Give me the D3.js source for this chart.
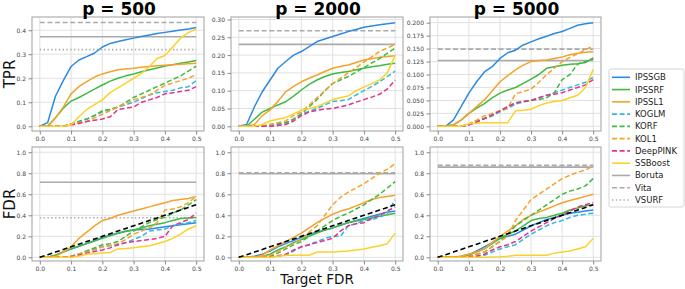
<!DOCTYPE html>
<html><head><meta charset="utf-8">
<script src="https://cdn.jsdelivr.net/npm/d3@7"></script>
<style>
body{margin:0;background:#fff}
svg{display:block}
text{font-family:"DejaVu Sans",sans-serif}
</style>
</head><body>
<svg id="chart" width="685" height="289"></svg>
<script>
// ---------- data ----------
const targetFDR = [0,0.025,0.05,0.075,0.1,0.125,0.15,0.175,0.2,0.225,0.25,0.275,0.3,0.325,0.35,0.375,0.4,0.425,0.45,0.475,0.5];
const methods = ["IPSSGB","IPSSRF","IPSSL1","KOGLM","KORF","KOL1","DeepPINK","SSBoost"];
const refMethods = ["Boruta","Vita","VSURF"];
const titles = ["p = 500","p = 2000","p = 5000"];
const xTicks = [0,0.1,0.2,0.3,0.4,0.5];

const tpr500 = {
  IPSSGB:  [0,0.015,0.125,0.19,0.249,0.276,0.29,0.305,0.33,0.345,0.353,0.36,0.367,0.374,0.38,0.386,0.391,0.396,0.401,0.405,0.411],
  IPSSRF:  [0,0,0.035,0.075,0.105,0.12,0.137,0.155,0.172,0.188,0.2,0.21,0.218,0.227,0.235,0.243,0.251,0.256,0.262,0.268,0.274],
  IPSSL1:  [0,0,0.035,0.08,0.135,0.165,0.186,0.205,0.218,0.227,0.235,0.239,0.242,0.246,0.249,0.252,0.254,0.256,0.258,0.26,0.262],
  KOGLM:   [0,0,0,0,0.01,0.02,0.03,0.045,0.06,0.07,0.08,0.09,0.1,0.115,0.13,0.14,0.145,0.15,0.16,0.165,0.19],
  KORF:    [0,0,0,0,0.01,0.02,0.03,0.045,0.065,0.07,0.08,0.1,0.12,0.135,0.15,0.165,0.18,0.195,0.21,0.23,0.25],
  KOL1:    [0,0,0,0,0.01,0.015,0.02,0.035,0.05,0.065,0.08,0.095,0.11,0.12,0.13,0.15,0.17,0.18,0.19,0.2,0.215],
  DeepPINK:[0,0,0,0,0.005,0.012,0.02,0.025,0.03,0.04,0.07,0.075,0.08,0.1,0.11,0.12,0.135,0.14,0.145,0.15,0.165],
  SSBoost: [0,0,0,0,0.005,0.04,0.07,0.09,0.11,0.14,0.16,0.18,0.2,0.22,0.248,0.282,0.295,0.33,0.367,0.39,0.405]
};
const tpr2000 = {
  IPSSGB:  [0,0.005,0.055,0.097,0.13,0.163,0.182,0.2,0.21,0.224,0.238,0.245,0.252,0.259,0.266,0.272,0.278,0.282,0.285,0.288,0.291],
  IPSSRF:  [0,0,0.02,0.04,0.05,0.06,0.069,0.085,0.102,0.118,0.13,0.14,0.147,0.151,0.154,0.159,0.163,0.167,0.17,0.174,0.177],
  IPSSL1:  [0,0,0.005,0.03,0.046,0.07,0.097,0.112,0.125,0.135,0.144,0.154,0.163,0.168,0.172,0.179,0.186,0.19,0.194,0.196,0.198],
  KOGLM:   [0,0,0,0,0,0.005,0.01,0.02,0.035,0.042,0.05,0.06,0.07,0.072,0.075,0.088,0.1,0.112,0.125,0.14,0.155],
  KORF:    [0,0,0,0,0.005,0.008,0.01,0.02,0.035,0.055,0.075,0.1,0.12,0.13,0.14,0.152,0.165,0.178,0.19,0.205,0.22],
  KOL1:    [0,0,0,0,0.005,0.01,0.015,0.03,0.04,0.06,0.08,0.1,0.12,0.135,0.15,0.165,0.18,0.195,0.21,0.22,0.23],
  DeepPINK:[0,0,0,0,0,0.002,0.005,0.015,0.03,0.04,0.045,0.048,0.05,0.055,0.06,0.068,0.075,0.082,0.09,0.105,0.13],
  SSBoost: [0,0,0,0.005,0.015,0.02,0.025,0.035,0.045,0.05,0.055,0.065,0.075,0.08,0.085,0.1,0.11,0.12,0.13,0.15,0.2]
};
const tpr5000 = {
  IPSSGB:  [0,0,0.012,0.038,0.064,0.086,0.105,0.115,0.131,0.142,0.147,0.157,0.163,0.169,0.174,0.179,0.183,0.189,0.195,0.198,0.2],
  IPSSRF:  [0,0,0.003,0.012,0.025,0.035,0.044,0.055,0.064,0.07,0.075,0.083,0.091,0.1,0.112,0.115,0.118,0.12,0.121,0.123,0.132],
  IPSSL1:  [0,0,0.003,0.012,0.025,0.038,0.051,0.068,0.086,0.098,0.109,0.118,0.125,0.127,0.128,0.131,0.134,0.138,0.141,0.143,0.144],
  KOGLM:   [0,0,0,0,0.003,0.008,0.015,0.02,0.028,0.035,0.043,0.047,0.05,0.055,0.06,0.065,0.07,0.075,0.08,0.085,0.095],
  KORF:    [0,0,0,0,0.003,0.01,0.015,0.022,0.03,0.038,0.045,0.048,0.05,0.052,0.055,0.065,0.09,0.1,0.12,0.125,0.13],
  KOL1:    [0,0,0,0,0.005,0.012,0.02,0.025,0.03,0.035,0.063,0.067,0.072,0.085,0.1,0.112,0.125,0.133,0.14,0.148,0.155],
  DeepPINK:[0,0,0,0,0.003,0.008,0.015,0.022,0.03,0.038,0.045,0.048,0.05,0.055,0.06,0.062,0.065,0.07,0.075,0.08,0.09],
  SSBoost: [0,0,0,0,0.005,0.006,0.007,0.007,0.007,0.007,0.03,0.031,0.033,0.04,0.045,0.048,0.05,0.055,0.06,0.075,0.11]
};
const fdr500 = {
  IPSSGB:  [0,0,0.02,0.05,0.08,0.105,0.13,0.16,0.19,0.21,0.23,0.25,0.26,0.265,0.27,0.28,0.29,0.3,0.31,0.32,0.33],
  IPSSRF:  [0,0,0.02,0.05,0.08,0.105,0.13,0.155,0.18,0.205,0.23,0.245,0.26,0.28,0.3,0.315,0.33,0.35,0.37,0.375,0.38],
  IPSSL1:  [0,0,0.01,0.05,0.1,0.18,0.24,0.3,0.35,0.37,0.4,0.42,0.44,0.46,0.48,0.5,0.52,0.54,0.55,0.56,0.58],
  KOGLM:   [0,0,0,0,0.01,0.03,0.06,0.08,0.1,0.11,0.12,0.14,0.17,0.2,0.25,0.26,0.27,0.3,0.32,0.33,0.35],
  KORF:    [0,0,0,0,0.01,0.03,0.06,0.09,0.12,0.13,0.15,0.2,0.25,0.29,0.33,0.36,0.38,0.42,0.45,0.5,0.55],
  KOL1:    [0,0,0,0,0.01,0.03,0.05,0.07,0.1,0.115,0.13,0.17,0.22,0.25,0.28,0.33,0.45,0.46,0.48,0.52,0.58],
  DeepPINK:[0,0,0,0,0.005,0.02,0.04,0.055,0.07,0.09,0.12,0.14,0.15,0.16,0.17,0.18,0.2,0.3,0.33,0.36,0.42],
  SSBoost: [0,0,0,0,0,0.01,0.03,0.035,0.04,0.045,0.08,0.085,0.09,0.1,0.11,0.13,0.15,0.18,0.22,0.27,0.3]
};
const fdr2000 = {
  IPSSGB:  [0,0,0.01,0.03,0.06,0.1,0.13,0.16,0.19,0.22,0.24,0.26,0.28,0.305,0.33,0.35,0.37,0.39,0.41,0.43,0.44],
  IPSSRF:  [0,0,0,0.01,0.03,0.07,0.1,0.14,0.17,0.2,0.23,0.26,0.28,0.305,0.33,0.345,0.36,0.375,0.39,0.405,0.42],
  IPSSL1:  [0,0,0,0.02,0.07,0.11,0.15,0.19,0.23,0.28,0.33,0.37,0.41,0.44,0.46,0.49,0.52,0.55,0.57,0.58,0.59],
  KOGLM:   [0,0,0,0,0.005,0.01,0.02,0.06,0.1,0.12,0.15,0.18,0.2,0.2,0.3,0.32,0.35,0.36,0.38,0.42,0.55],
  KORF:    [0,0,0,0.005,0.01,0.04,0.08,0.12,0.15,0.2,0.25,0.3,0.35,0.39,0.42,0.46,0.5,0.55,0.6,0.66,0.72],
  KOL1:    [0,0,0,0.01,0.02,0.05,0.1,0.13,0.17,0.24,0.3,0.4,0.5,0.57,0.62,0.66,0.7,0.75,0.8,0.84,0.89],
  DeepPINK:[0,0,0,0,0.005,0.015,0.03,0.07,0.1,0.12,0.14,0.16,0.18,0.25,0.3,0.32,0.33,0.37,0.4,0.44,0.48],
  SSBoost: [0,0,0,0,0,0.01,0.02,0.02,0.02,0.02,0.05,0.05,0.05,0.055,0.06,0.07,0.08,0.095,0.11,0.13,0.23]
};
const fdr5000 = {
  IPSSGB:  [0,0,0,0.005,0.02,0.06,0.1,0.14,0.18,0.2,0.22,0.26,0.3,0.33,0.36,0.38,0.4,0.42,0.43,0.44,0.45],
  IPSSRF:  [0,0,0,0.01,0.03,0.05,0.08,0.13,0.18,0.22,0.25,0.3,0.35,0.37,0.38,0.4,0.42,0.45,0.47,0.49,0.5],
  IPSSL1:  [0,0,0,0.01,0.03,0.05,0.08,0.14,0.2,0.25,0.3,0.36,0.4,0.43,0.46,0.49,0.52,0.54,0.56,0.58,0.6],
  KOGLM:   [0,0,0,0,0.005,0.01,0.02,0.05,0.08,0.1,0.12,0.17,0.22,0.26,0.3,0.33,0.35,0.38,0.4,0.41,0.42],
  KORF:    [0,0,0,0,0.01,0.03,0.05,0.1,0.15,0.22,0.3,0.35,0.4,0.45,0.5,0.55,0.6,0.63,0.65,0.68,0.75],
  KOL1:    [0,0,0,0,0.01,0.03,0.05,0.1,0.15,0.2,0.35,0.45,0.55,0.6,0.65,0.7,0.75,0.78,0.81,0.83,0.87],
  DeepPINK:[0,0,0,0,0.005,0.01,0.03,0.07,0.1,0.12,0.15,0.2,0.25,0.29,0.33,0.37,0.4,0.44,0.48,0.5,0.52],
  SSBoost: [0,0,0,0,0,0,0,0.003,0.005,0.01,0.02,0.02,0.02,0.02,0.02,0.04,0.05,0.06,0.08,0.1,0.18]
};
// horizontal reference methods (Boruta, Vita, VSURF); null = not shown
const refTPR500  = [0.373, 0.432, 0.319];
const refTPR2000 = [0.230, 0.2685, null];
const refTPR5000 = [0.127, 0.149, null];
const refFDR500  = [0.714, null, 0.377];
const refFDR2000 = [0.795, 0.805, null];
const refFDR5000 = [0.858, 0.875, null];

const tprTicks500  = [0,0.1,0.2,0.3,0.4];
const tprTicks2000 = [0,0.05,0.1,0.15,0.2,0.25,0.3];
const tprTicks5000 = [0,0.025,0.05,0.075,0.1,0.125,0.15,0.175,0.2];
const fdrTicks     = [0,0.2,0.4,0.6,0.8,1.0];

// ---------- styles ----------
const colors = {IPSSGB:"#2b8ae3",IPSSRF:"#3fba3f",IPSSL1:"#f4a22c",KOGLM:"#2fb9e2",KORF:"#3fba3f",KOL1:"#f4a22c",DeepPINK:"#e5318b",SSBoost:"#fbd22a",Boruta:"#aaaaaa",Vita:"#aaaaaa",VSURF:"#aaaaaa"};
const dashes = {IPSSGB:null,IPSSRF:null,IPSSL1:null,KOGLM:"5,2.6",KORF:"5,2.6",KOL1:"5,2.6",DeepPINK:"5,2.6",SSBoost:null,Boruta:null,Vita:"5,2.6",VSURF:"1.4,2.4"};

const svg = d3.select("#chart");
const colX = [[32,204],[231,403],[430,601]];
const rowY = [[17,131],[147,261]];

function panel(col,row,data,refs,yDom,yTicks,yFmt,diag){
  const [L,R]=colX[col], [T,B]=rowY[row];
  const x=d3.scaleLinear().domain([-0.025,0.525]).range([L,R]);
  const y=d3.scaleLinear().domain(yDom).range([B,T]);
  const g=svg.append("g");
  const cid="clip"+col+row;
  svg.append("clipPath").attr("id",cid).append("rect").attr("x",L).attr("y",T).attr("width",R-L).attr("height",B-T);
  g.selectAll(".gx").data(xTicks).join("line").attr("x1",d=>x(d)).attr("x2",d=>x(d)).attr("y1",T).attr("y2",B)
    .attr("stroke","#dedede").attr("stroke-width",0.9);
  g.selectAll(".gy").data(yTicks).join("line").attr("y1",d=>y(d)).attr("y2",d=>y(d)).attr("x1",L).attr("x2",R)
    .attr("stroke","#dedede").attr("stroke-width",0.9);
  const lg=g.append("g").attr("clip-path",`url(#${cid})`);
  refMethods.forEach((m,i)=>{
    if(refs[i]==null) return;
    lg.append("line").attr("x1",x(0)).attr("x2",x(0.5)).attr("y1",y(refs[i])).attr("y2",y(refs[i]))
      .attr("stroke",colors[m]).attr("stroke-width",1.6).attr("stroke-dasharray",dashes[m]);
  });
  const line=d3.line().x((d,i)=>x(targetFDR[i])).y(d=>y(d));
  methods.forEach(m=>{
    lg.append("path").datum(data[m]).attr("d",line).attr("fill","none")
      .attr("stroke",colors[m]).attr("stroke-width",1.5).attr("stroke-dasharray",dashes[m]).attr("stroke-linejoin","round");
  });
  if(diag){
    lg.append("path").datum(targetFDR).attr("d",d3.line().x(d=>x(d)).y(d=>y(d))).attr("fill","none")
      .attr("stroke","#000").attr("stroke-width",1.6).attr("stroke-dasharray","5,3");
  }
  g.append("rect").attr("x",L).attr("y",T).attr("width",R-L).attr("height",B-T)
    .attr("fill","none").attr("stroke","#a8a8a8").attr("stroke-width",1.1);
  const ax=g.append("g").attr("transform",`translate(0,${B})`)
    .call(d3.axisBottom(x).tickValues(xTicks).tickFormat(d3.format(".1f")).tickSize(3.5).tickPadding(2));
  const ay=g.append("g").attr("transform",`translate(${L},0)`)
    .call(d3.axisLeft(y).tickValues(yTicks).tickFormat(d3.format(yFmt)).tickSize(3.5).tickPadding(2.5));
  [ax,ay].forEach(a=>{
    a.attr("font-size",6).attr("font-family","DejaVu Sans");
    a.select(".domain").remove();
    a.selectAll("line").attr("stroke","#888");
    a.selectAll("text").attr("fill","#444");
  });
}

panel(0,0,tpr500,refTPR500,[-0.0196,0.455],tprTicks500,".1f",false);
panel(1,0,tpr2000,refTPR2000,[-0.0132,0.307],tprTicks2000,".2f",false);
panel(2,0,tpr5000,refTPR5000,[-0.009,0.211],tprTicks5000,".3f",false);
panel(0,1,fdr500,refFDR500,[-0.035,1.05],fdrTicks,".1f",true);
panel(1,1,fdr2000,refFDR2000,[-0.035,1.05],fdrTicks,".1f",true);
panel(2,1,fdr5000,refFDR5000,[-0.035,1.05],fdrTicks,".1f",true);

titles.forEach((t,i)=>{
  svg.append("text").attr("x",(colX[i][0]+colX[i][1])/2+1).attr("y",15).attr("text-anchor","middle")
    .attr("font-size",17).attr("font-weight","bold").attr("fill","#000").text(t);
});
svg.append("text").attr("transform","translate(15,74) rotate(-90)").attr("text-anchor","middle")
  .attr("font-size",15).attr("fill","#111").text("TPR");
svg.append("text").attr("transform","translate(15,204) rotate(-90)").attr("text-anchor","middle")
  .attr("font-size",15).attr("fill","#111").text("FDR");
svg.append("text").attr("x",317).attr("y",284).attr("text-anchor","middle")
  .attr("font-size",13.5).attr("fill","#111").text("Target FDR");

const legNames = methods.concat(refMethods);
const lg = svg.append("g");
lg.append("rect").attr("x",609).attr("y",69).attr("width",75).attr("height",138).attr("rx",2)
  .attr("fill","#fff").attr("stroke","#d0d0d0").attr("stroke-width",0.9);
legNames.forEach((m,i)=>{
  const yy=77.3+i*12.27;
  lg.append("line").attr("x1",612).attr("x2",630).attr("y1",yy).attr("y2",yy)
    .attr("stroke",colors[m]).attr("stroke-width",1.6).attr("stroke-dasharray",dashes[m]);
  lg.append("text").attr("x",635).attr("y",yy).attr("dy","0.35em").attr("font-size",8.5)
    .attr("fill","#222").text(m);
});
</script>
</body></html>
